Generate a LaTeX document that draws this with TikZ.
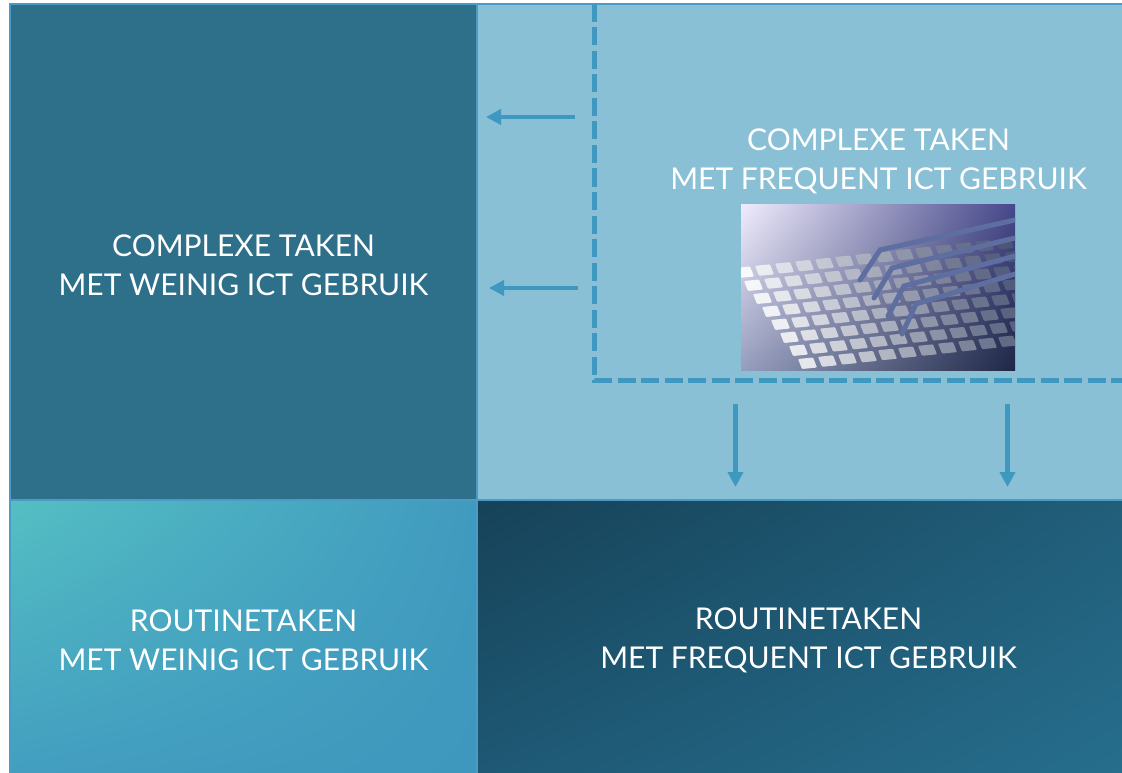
\documentclass[tikz,border=0pt]{standalone}
\usepackage{fontspec}
\setmainfont{Lato}
\usetikzlibrary{arrows.meta,shadings}
\definecolor{darktile}{HTML}{2E6F8A}
\definecolor{lighttile}{HTML}{89C0D6}
\definecolor{linkblue}{HTML}{3F98C0}
\definecolor{edgeblue}{HTML}{4A9CC4}
\definecolor{blUL}{RGB}{84,191,195}
\definecolor{blUR}{RGB}{64,154,191}
\definecolor{blLL}{RGB}{67,158,192}
\definecolor{blLR}{RGB}{62,151,189}
\definecolor{brUL}{RGB}{22,66,88}
\definecolor{brUR}{RGB}{33,94,122}
\definecolor{brLL}{RGB}{30,88,116}
\definecolor{brLR}{RGB}{38,110,141}
\definecolor{phUL}{RGB}{240,236,252}
\definecolor{phUR}{RGB}{70,72,140}
\definecolor{phLL}{RGB}{150,158,190}
\definecolor{phLR}{RGB}{30,40,70}
\definecolor{keycol}{RGB}{60,72,105}
\definecolor{armcol}{RGB}{95,110,160}
\tikzset{
  label text/.style={text=white, align=center, font=\fontsize{30}{39}\selectfont, inner sep=0pt},
  flowarrow/.style={draw=linkblue, line width=4.5pt, -{Triangle[length=15pt,width=15pt]}},
  dashframe/.style={draw=linkblue, line width=5.5pt, dash pattern=on 18pt off 5.5pt},
  tileedge/.style={draw=edgeblue, line width=2pt},
}
\begin{document}
\begin{tikzpicture}[x=1pt,y=-1pt]
\useasboundingbox (0,0) rectangle (1122,773);
\fill[white] (0,0) rectangle (1122,773);
% tiles
\fill[darktile] (10,4) rectangle (477,500);
\fill[lighttile] (477,4) rectangle (1122,500);
\shade[upper left=blUL, upper right=blUR, lower left=blLL, lower right=blLR]
  (10,500) rectangle (477,773);
\shade[upper left=brUL, upper right=brUR, lower left=brLL, lower right=brLR]
  (477,500) rectangle (1122,773);
% tile edges
\draw[tileedge] (10,773) -- (10,4) -- (1122,4);
\draw[tileedge] (477,4) -- (477,773);
\draw[tileedge] (10,500) -- (1122,500);
% photo placeholder
\begin{scope}
  \clip (741,204) rectangle (1015,370);
  \shade[upper left=phUL, upper right=phUR, lower left=phLL, lower right=phLR]
    (741,204) rectangle (1015,370);
  \foreach \r in {0,...,7}{
    \foreach \c in {0,...,16}{
      \pgfmathsetmacro{\kx}{735+\c*20+\r*9}
      \pgfmathsetmacro{\ky}{268+\r*13-\c*2.2}
      \pgfmathsetmacro{\shadeval}{max(0,min(100,100-\c*7-\r*1))}
      \fill[rounded corners=1pt, fill=white!\shadeval!keycol, opacity=0.9]
        (\kx,\ky) -- ++(15,-1.5) -- ++(4,10) -- ++(-15,1.5) -- cycle;
    }
  }
  \foreach \f/\y in {0/240,1/258,2/276,3/294}{
    \draw[line width=5pt, color=armcol, line cap=round]
      (1015,{\y-20}) -- ({880+\f*12},{\y+10}) -- ({860+\f*14},{\y+40});
  }
\end{scope}
% dashed frame
\coordinate (dtop) at (594.5,4);
\coordinate (dcorner) at (594.5,380.5);
\coordinate (dright) at (1122,380.5);
\draw[dashframe] (dtop) -- (dcorner) -- (dright);
% arrows
\coordinate (a1s) at (575,117); \coordinate (a1e) at (486,117);
\coordinate (a2s) at (578,288); \coordinate (a2e) at (489,288);
\coordinate (a3s) at (735.5,404); \coordinate (a3e) at (735.5,487);
\coordinate (a4s) at (1007.5,404); \coordinate (a4e) at (1007.5,487);
\draw[flowarrow] (a1s) -- (a1e);
\draw[flowarrow] (a2s) -- (a2e);
\draw[flowarrow] (a3s) -- (a3e);
\draw[flowarrow] (a4s) -- (a4e);
% labels
\node[label text] (cw) at (243.5,265.5) {COMPLEXE TAKEN\\MET WEINIG ICT GEBRUIK};
\node[label text] (cf) at (878.5,161) {COMPLEXE TAKEN\\MET FREQUENT ICT GEBRUIK};
\node[label text] (rw) at (243.5,640) {ROUTINETAKEN\\MET WEINIG ICT GEBRUIK};
\node[label text] (rf) at (808.5,640.5) {ROUTINETAKEN\\MET FREQUENT ICT GEBRUIK};
\end{tikzpicture}
\end{document}
